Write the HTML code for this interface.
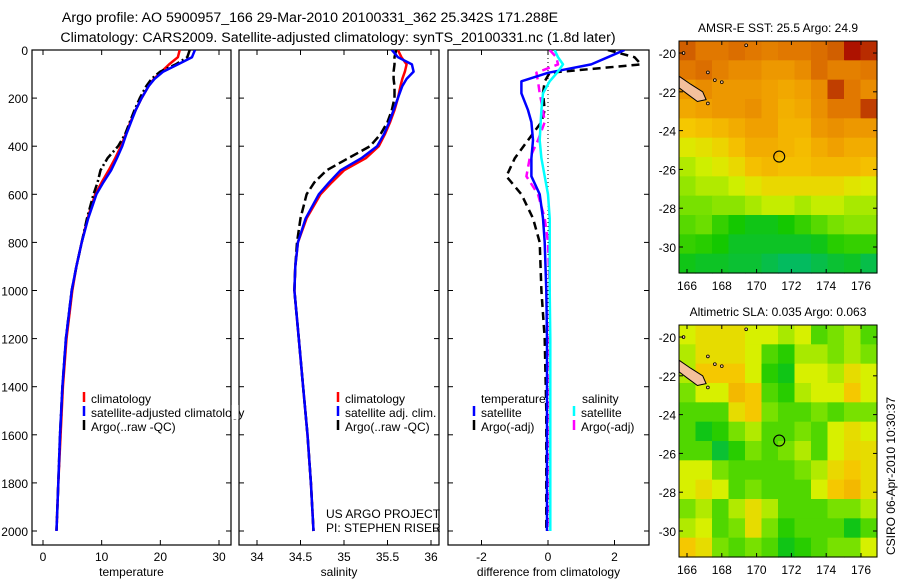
<!DOCTYPE html>
<html><head><meta charset="utf-8"><style>
html,body{margin:0;padding:0;background:#fff;}
svg{display:block;font-family:"Liberation Sans",sans-serif;}
</style></head><body>
<svg id="fig" width="900" height="580" viewBox="0 0 900 580" xmlns="http://www.w3.org/2000/svg">
<rect width="900" height="580" fill="#fff"/>
<text x="310" y="22" font-size="14.2" text-anchor="middle">Argo profile: AO 5900957_166 29-Mar-2010 20100331_362 25.342S 171.288E</text>
<text x="338" y="42" font-size="14.2" text-anchor="middle">Climatology: CARS2009. Satellite-adjusted climatology: synTS_20100331.nc (1.8d later)</text>
<g id="g"></g>
</svg>
<script>
// ---- profile data ----
const depth = [0,30,60,90,120,150,200,250,300,350,400,450,500,550,600,700,800,900,1000,1200,1400,1600,1800,2000];
const tempClim = [23.3,23.0,21.5,20.2,18.9,18.0,16.8,15.8,14.9,14.1,13.3,12.3,11.2,10.0,8.9,7.6,6.6,5.7,5.0,4.0,3.4,3.0,2.6,2.3];
const tempSat  = [25.9,25.4,23.0,20.5,19.0,18.0,16.8,15.8,15.0,14.2,13.5,12.6,11.6,10.3,9.1,7.7,6.6,5.7,4.9,3.9,3.3,2.9,2.6,2.3];
const tempArgo = [25.0,24.6,22.6,20.0,18.5,17.6,16.5,15.6,14.8,14.0,12.8,11.0,9.8,9.3,8.6,7.5,6.6,5.7,4.9,3.9,3.3,2.9,2.6,2.3];
const salClim = [35.62,35.66,35.72,35.70,35.67,35.65,35.62,35.58,35.53,35.47,35.40,35.25,35.0,34.86,34.73,34.57,34.47,34.44,34.43,34.48,34.53,34.58,34.62,34.65];
const salSat  = [35.55,35.62,35.78,35.80,35.72,35.67,35.62,35.57,35.52,35.46,35.38,35.20,34.96,34.83,34.71,34.56,34.47,34.44,34.43,34.48,34.53,34.58,34.62,34.65];
const salArgo = [35.60,35.58,35.58,35.57,35.57,35.58,35.58,35.55,35.50,35.42,35.30,35.05,34.80,34.66,34.57,34.50,34.46,34.44,34.43,34.48,34.53,34.58,34.62,34.65];
const diffDepth = [0,30,60,95,130,180,250,300,375,450,525,600,700,800,1000,1200,1500,2000];
const diffTSat  = [2.3,1.8,1.3,0.0,-0.8,-0.8,-0.6,-0.5,-0.45,-0.5,-0.5,-0.25,-0.15,-0.1,-0.05,-0.03,-0.03,-0.03];
const diffTArgo = [1.8,2.6,2.8,0.05,-0.1,-0.15,-0.1,-0.2,-0.6,-1.0,-1.25,-0.8,-0.45,-0.25,-0.2,-0.1,-0.05,-0.05];
const diffSSat  = [0.2,0.3,0.45,0.27,0.05,-0.15,-0.2,-0.22,-0.25,-0.2,-0.1,0.0,0.05,0.05,0.05,0.07,0.07,0.07];
const diffSArgo = [0.05,0.25,0.3,-0.35,-0.3,-0.25,-0.15,-0.1,-0.3,-0.55,-0.65,-0.3,-0.1,0.0,0.05,0.05,0.05,0.05];
const depthTicks = [0,200,400,600,800,1000,1200,1400,1600,1800,2000];
const tempTicks = [0,10,20,30];
const salTicks = [34,34.5,35,35.5,36];
const salTickLabels = ["34","34.5","35","35.5","36"];
const diffTicks = [-2,0,2];
const lonTicks = [166,168,170,172,174,176];
const latTicks = [-20,-22,-24,-26,-28,-30];
// ---- map data (rows north->south, cols west->east), normalized colour value ----
const sstGrid = [
[.85,.8,.8,.82,.8,.78,.8,.8,.82,.85,.95,.92],
[.8,.82,.78,.75,.75,.72,.72,.75,.82,.78,.78,.8],
[.72,.75,.72,.72,.72,.7,.68,.7,.75,.9,.8,.75],
[.68,.7,.72,.72,.74,.7,.66,.68,.74,.8,.8,.9],
[.6,.62,.64,.67,.7,.7,.65,.65,.72,.74,.72,.72],
[.52,.54,.57,.62,.67,.67,.65,.63,.67,.7,.67,.67],
[.46,.49,.52,.56,.62,.64,.62,.62,.64,.64,.64,.62],
[.43,.46,.46,.49,.53,.56,.56,.56,.56,.56,.53,.51],
[.4,.4,.42,.42,.45,.48,.48,.45,.48,.48,.45,.45],
[.35,.38,.3,.25,.22,.22,.25,.3,.35,.4,.42,.42],
[.3,.28,.25,.2,.2,.2,.2,.2,.22,.28,.3,.3],
[.22,.2,.2,.18,.18,.15,.12,.12,.15,.18,.2,.15]];
const slaGrid = [
[.5,.55,.55,.55,.5,.5,.45,.5,.34,.4,.45,.34],
[.46,.55,.55,.55,.5,.34,.28,.45,.45,.4,.45,.4],
[.46,.6,.6,.6,.5,.28,.22,.5,.5,.46,.55,.5],
[.4,.5,.5,.64,.6,.34,.28,.46,.5,.5,.6,.5],
[.34,.34,.34,.55,.6,.4,.34,.34,.4,.34,.4,.4],
[.34,.22,.28,.4,.46,.34,.34,.4,.34,.5,.55,.5],
[.34,.34,.18,.28,.4,.34,.4,.46,.34,.5,.56,.55],
[.5,.5,.4,.34,.34,.34,.34,.4,.46,.56,.6,.55],
[.5,.55,.5,.34,.4,.34,.34,.34,.5,.6,.64,.55],
[.4,.46,.34,.46,.55,.46,.34,.34,.34,.4,.4,.46],
[.46,.5,.34,.4,.55,.4,.28,.34,.34,.34,.22,.34],
[.6,.55,.4,.34,.4,.34,.22,.28,.34,.4,.4,.5]];
const argoLon = 171.3, argoLat = -25.34;

const NS="http://www.w3.org/2000/svg";
const G=document.getElementById('g');
function mk(tag,attrs,parent,txt){const e=document.createElementNS(NS,tag);for(const k in attrs)e.setAttribute(k,attrs[k]);if(txt!==undefined)e.textContent=txt;(parent||G).appendChild(e);return e;}

const Y0=50, Y1=545;
const yD = d => 50 + d*0.2405;
const panels=[
 {x0:32,x1:231,name:'temperature-panel'},
 {x0:239,x1:439,name:'salinity-panel'},
 {x0:448,x1:649,name:'difference-panel'}];
panels[0].sx=v=>43+v*(176/30);
panels[1].sx=v=>257+(v-34)*87;
panels[2].sx=v=>548+v*33.25;

function frame(p,ticksX,labelsX,xlabel,idx){
  const g=mk('g',{});
  
  
  const r=mk('rect',{x:p.x0,y:Y0,width:p.x1-p.x0,height:Y1-Y0,fill:'none',stroke:'#000','stroke-width':1.2},g);
  
  
  depthTicks.forEach(d=>{
    mk('line',{x1:p.x0,x2:p.x0+5,y1:yD(d),y2:yD(d),stroke:'#000'},g);
    mk('line',{x1:p.x1,x2:p.x1-5,y1:yD(d),y2:yD(d),stroke:'#000'},g);
    if(idx===0){const t=mk('text',{x:28,y:yD(d)+5,'font-size':12,'text-anchor':'end'},g,String(d));
      
      }
  });
  ticksX.forEach((v,i)=>{
    const x=p.sx(v);
    mk('line',{x1:x,x2:x,y1:Y0,y2:Y0+5,stroke:'#000'},g);
    mk('line',{x1:x,x2:x,y1:Y1,y2:Y1-5,stroke:'#000'},g);
    const t=mk('text',{x:x,y:561,'font-size':12,'text-anchor':'middle'},g,labelsX[i]);
    
    
  });
  const xl=mk('text',{x:(p.x0+p.x1)/2,y:576,'font-size':12,'text-anchor':'middle'},g,xlabel);
  
  
}
frame(panels[0],tempTicks,tempTicks.map(String),'temperature',0);
frame(panels[1],salTicks,salTickLabels,'salinity',1);
frame(panels[2],diffTicks,diffTicks.map(String),'difference from climatology',2);

function line(sx,vals,depths,color,dash,name,clip){
  const pts=vals.map((v,i)=>sx(v).toFixed(1)+','+yD(depths[i]).toFixed(1)).join(' ');
  const a={points:pts,fill:'none',stroke:color,'stroke-width':2.5,'stroke-linejoin':'round'};
  if(dash)a['stroke-dasharray']=dash;
  if(clip)a['clip-path']=clip;
  const e=mk('polyline',a);
  
  
}
const defs=mk('defs',{});
panels.forEach((p,i)=>{const c=mk('clipPath',{id:'cp'+i},defs);mk('rect',{x:p.x0,y:Y0,width:p.x1-p.x0,height:Y1-Y0},c);});
const zl=mk('line',{x1:panels[2].sx(0),x2:panels[2].sx(0),y1:Y0,y2:yD(2000),stroke:'#000','stroke-width':1,'stroke-dasharray':'1,3'});



line(panels[0].sx,tempClim,depth,'#f00',null,'temperature-climatology-line','url(#cp0)');
line(panels[0].sx,tempArgo,depth,'#000','9,3,2,3','temperature-argo-line','url(#cp0)');
line(panels[0].sx,tempSat,depth,'#00f',null,'temperature-satellite-line','url(#cp0)');
line(panels[1].sx,salClim,depth,'#f00',null,'salinity-climatology-line','url(#cp1)');
line(panels[1].sx,salArgo,depth,'#000','9,4','salinity-argo-line','url(#cp1)');
line(panels[1].sx,salSat,depth,'#00f',null,'salinity-satellite-line','url(#cp1)');
line(panels[2].sx,diffTArgo,diffDepth,'#000','8,5','temp-diff-argo-line','url(#cp2)');
line(panels[2].sx,diffSArgo,diffDepth,'#f0f','8,5','sal-diff-argo-line','url(#cp2)');
line(panels[2].sx,diffTSat,diffDepth,'#00f',null,'temp-diff-satellite-line','url(#cp2)');
line(panels[2].sx,diffSSat,diffDepth,'#0ff',null,'sal-diff-satellite-line','url(#cp2)');

function legend(x,y,color,label,name){
  const g=mk('g',{});
  
  
  mk('line',{x1:x,x2:x,y1:y-11,y2:y-1,stroke:color,'stroke-width':2.5},g);
  mk('text',{x:x+7,y:y,'font-size':12},g,label);
}
legend(84,403,'#f00','climatology','legend-climatology');
legend(84,417,'#00f','satellite-adjusted climatology','legend-satellite-adjusted');
legend(84,431,'#000','Argo(..raw -QC)','legend-argo');
legend(338,403,'#f00','climatology','legend-sal-climatology');
legend(338,417,'#00f','satellite adj. clim.','legend-sal-satellite');
legend(338,431,'#000','Argo(..raw -QC)','legend-sal-argo');
const lt=mk('text',{x:481,y:403,'font-size':12},G,'temperature');


const ls=mk('text',{x:582,y:403,'font-size':12},G,'salinity');


legend(474,417,'#00f','satellite','legend-temp-satellite');
legend(474,431,'#000','Argo(-adj)','legend-temp-argo');
legend(574,417,'#0ff','satellite','legend-sal-satellite-diff');
legend(574,431,'#f0f','Argo(-adj)','legend-sal-argo-diff');
const cov=mk('rect',{x:231.6,y:405,width:7,height:14,fill:'#fff'});


const c1=mk('text',{x:326,y:518,'font-size':12},G,'US ARGO PROJECT');


const c2=mk('text',{x:326,y:532,'font-size':12},G,'PI: STEPHEN RISER');



// ---- maps ----
const stops=[[0.1,[0,185,110]],[0.25,[20,200,0]],[0.4,[120,225,0]],[0.5,[215,240,0]],[0.6,[245,200,0]],[0.7,[240,160,0]],[0.8,[225,120,0]],[0.88,[200,80,0]],[0.97,[165,0,0]]];
function cmap(v){
  if(v<=stops[0][0])return 'rgb('+stops[0][1]+')';
  for(let i=1;i<stops.length;i++){if(v<=stops[i][0]){const a=stops[i-1],b=stops[i],t=(v-a[0])/(b[0]-a[0]);
    return 'rgb('+a[1].map((c,k)=>Math.round(c+(b[1][k]-c)*t)).join(',')+')';}}
  return 'rgb('+stops[stops.length-1][1]+')';
}
const LON0=165.54, LON1=176.92, LAT0=-19.38, LAT1=-31.34;
function drawMap(top,grid,title,name){
  const x0=679,x1=877,y0=top,y1=top+232;
  const sx=lon=>x0+(lon-LON0)/(LON1-LON0)*(x1-x0);
  const sy=lat=>y0+(lat-LAT0)/(LAT1-LAT0)*(y1-y0);
  const g=mk('g',{});
  
  
  const rows=grid.length, cols=grid[0].length;
  const dLon=(LON1-LON0)/cols, dLat=(LAT1-LAT0)/rows;
  grid.forEach((row,r)=>row.forEach((v,c)=>{
    const xa=sx(LON0+c*dLon), xb=sx(LON0+(c+1)*dLon), ya=sy(LAT0+r*dLat), yb=sy(LAT0+(r+1)*dLat);
    const cell=mk('rect',{x:xa.toFixed(2),y:ya.toFixed(2),width:(xb-xa+0.6).toFixed(2),height:(yb-ya+0.6).toFixed(2),fill:cmap(v)},g);
    
    
  }));
  const nc=[[165.55,-21.2],[166.2,-21.6],[166.9,-22.0],[167.1,-22.4],[166.6,-22.5],[166.0,-22.1],[165.55,-21.8]];
  const isl=mk('polygon',{points:nc.map(p=>sx(p[0]).toFixed(1)+','+sy(p[1]).toFixed(1)).join(' '),fill:'#f4c09c',stroke:'#000','stroke-width':1},g);
  
  
  [[167.2,-21.0],[167.6,-21.4],[168.0,-21.5],[167.2,-22.6],[165.8,-20.0],[169.4,-19.6]].forEach(p=>{
    const s=mk('circle',{cx:sx(p[0]),cy:sy(p[1]),r:1.4,fill:'#f4c09c',stroke:'#000','stroke-width':0.8},g);
    
    
  });
  const ring=mk('circle',{cx:sx(argoLon),cy:sy(argoLat),r:5.5,fill:'none',stroke:'#000','stroke-width':1.1},g);
  
  
  const fr=mk('rect',{x:x0,y:y0,width:x1-x0,height:y1-y0,fill:'none',stroke:'#000','stroke-width':1},g);
  
  
  lonTicks.forEach(l=>{const x=sx(l);
    mk('line',{x1:x,x2:x,y1:y1,y2:y1-4,stroke:'#000'},g);mk('line',{x1:x,x2:x,y1:y0,y2:y0+4,stroke:'#000'},g);
    const t=mk('text',{x:x,y:y1+17,'font-size':12,'text-anchor':'middle'},g,String(l));
    
    });
  latTicks.forEach(l=>{const y=sy(l);
    mk('line',{x1:x0,x2:x0+4,y1:y,y2:y,stroke:'#000'},g);mk('line',{x1:x1,x2:x1-4,y1:y,y2:y,stroke:'#000'},g);
    const t=mk('text',{x:x0-3,y:y+5,'font-size':12,'text-anchor':'end'},g,String(l));
    
    });
  const tt=mk('text',{x:(x0+x1)/2,y:y0-9,'font-size':12,'text-anchor':'middle'},g,title);
  
  
}
drawMap(41,sstGrid,'AMSR-E SST: 25.5 Argo: 24.9','sst-map');
drawMap(325,slaGrid,'Altimetric SLA: 0.035 Argo: 0.063','sla-map');
const stamp=mk('text',{x:0,y:0,'font-size':12,'text-anchor':'middle',transform:'translate(895,476) rotate(-90)'},G,'CSIRO 06-Apr-2010 10:30:37');


</script>
</body></html>
